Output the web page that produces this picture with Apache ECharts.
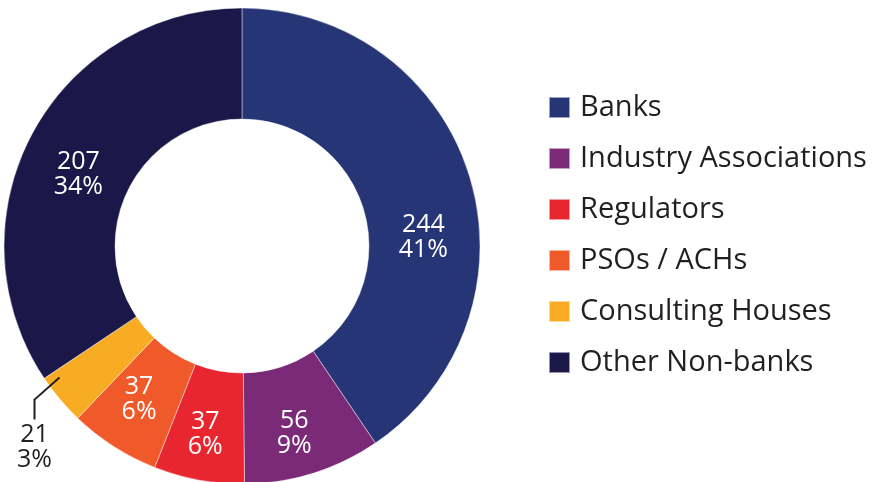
<!DOCTYPE html>
<html>
<head>
<meta charset="utf-8">
<script src="https://cdn.jsdelivr.net/npm/echarts@6/dist/echarts.min.js"></script>
<style>
  html, body { margin: 0; padding: 0; background: #ffffff; }
  #chart { width: 872px; height: 482px; }
</style>
</head>
<body>
<div id="chart"></div>
<script>
// Respondent groups and counts
const categories = ['Banks', 'Industry Associations', 'Regulators', 'PSOs / ACHs', 'Consulting Houses', 'Other Non-banks'];
const counts = [244, 56, 37, 37, 21, 207];
const colors = ['#253575', '#7b2a78', '#e8262f', '#f0592a', '#f7ac23', '#1c1749'];

const total = counts.reduce((a, b) => a + b, 0);
const FONT = '"Open Sans", "Noto Sans", sans-serif';
const TEXT_DARK = '#231f20';

// Ring geometry
const CX = 242, CY = 246, R_IN = 127, R_OUT = 238;

// Per-slice label nudges (label placement only)
const labelOffsets = [[4, 46], [-3, 10], [-3, 6], [-3, -3], [0, 0], [0, 16]];

// The small "Consulting Houses" slice gets its label outside with an elbow leader.
const calloutIndex = 4;
const before = counts.slice(0, calloutIndex).reduce((a, b) => a + b, 0);
const calloutAngle = (before + 0.84 * counts[calloutIndex]) / total * 2 * Math.PI; // clockwise from 12 o'clock
const calloutR = R_OUT - 13;
const leadStart = [CX + calloutR * Math.sin(calloutAngle), CY - calloutR * Math.cos(calloutAngle)];
const leadElbow = [leadStart[0] - 25, leadStart[1] + 22];
const leadEnd = [leadElbow[0], leadElbow[1] + 20];

const data = categories.map((name, i) => {
  const item = {
    name: name,
    value: counts[i],
    itemStyle: { color: colors[i] },
    label: { offset: labelOffsets[i] }
  };
  if (i === calloutIndex) {
    item.label = { position: 'outside', color: TEXT_DARK, align: 'center' };
    item.labelLine = { show: false };
  }
  return item;
});

const chart = echarts.init(document.getElementById('chart'), null, { renderer: 'canvas' });

chart.setOption({
  animation: false,
  backgroundColor: '#ffffff',
  color: colors,
  legend: {
    orient: 'vertical',
    left: 543,
    top: 87,
    itemWidth: 21,
    itemHeight: 21,
    itemGap: 20,
    icon: 'rect',
    selectedMode: false,
    data: categories,
    textStyle: {
      fontFamily: FONT,
      fontSize: 29,
      lineHeight: 31,
      color: TEXT_DARK,
      padding: [0, 0, 0, 5]
    }
  },
  graphic: [{
    type: 'polyline',
    z: 100,
    silent: true,
    shape: { points: [leadStart, leadElbow, leadEnd] },
    style: { stroke: TEXT_DARK, lineWidth: 2, fill: null }
  }],
  series: [{
    type: 'pie',
    center: [CX, CY],
    radius: [R_IN, R_OUT],
    startAngle: 90,
    clockwise: true,
    avoidLabelOverlap: false,
    itemStyle: {
      borderColor: 'rgba(255,255,255,0.55)',
      borderWidth: 0.8
    },
    label: {
      show: true,
      position: 'inside',
      color: '#ffffff',
      fontFamily: FONT,
      fontSize: 25,
      lineHeight: 25,
      formatter: p => p.value + '\n' + Math.round(p.value / total * 100) + '%'
    },
    labelLine: { show: false },
    labelLayout: function (params) {
      if (params.dataIndex !== calloutIndex) return {};
      return {
        x: leadEnd[0],
        y: leadEnd[1] + 3,
        align: 'center',
        verticalAlign: 'top'
      };
    },
    data: data
  }]
});
</script>
</body>
</html>
